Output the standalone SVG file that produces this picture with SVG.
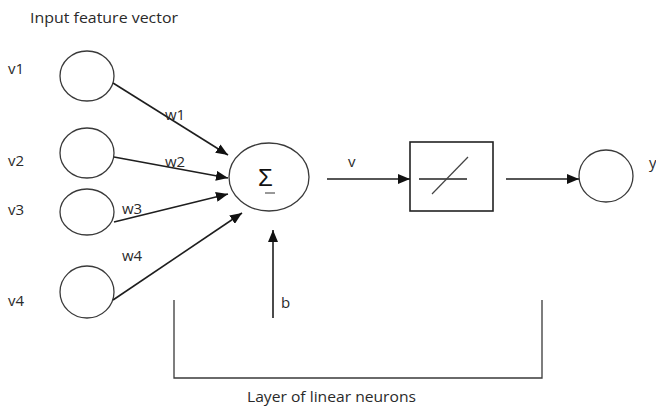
<svg xmlns="http://www.w3.org/2000/svg" width="656" height="407" viewBox="0 0 656 407">
  <style>
    .txt { font-family: "Open Sans", "Liberation Sans", sans-serif; font-size: 15px; fill: #2a2a2a; }
    .node { fill: #ffffff; stroke: #3a3a3a; stroke-width: 1.3; }
    .edge { fill: none; stroke: #1e1e1e; stroke-width: 1.6; }
    .thin { fill: none; stroke: #3a3a3a; stroke-width: 1.3; }
  </style>
  <defs>
    <marker id="arrow" viewBox="0 0 12 10" refX="12" refY="5" markerWidth="12" markerHeight="10" markerUnits="userSpaceOnUse" orient="auto">
      <path d="M0,0 L12,5 L0,10 Z" fill="#111111"/>
    </marker>
  </defs>
  <rect x="0" y="0" width="656" height="407" fill="#ffffff"/>

  <text class="txt" x="30" y="23" textLength="148" lengthAdjust="spacingAndGlyphs">Input feature vector</text>

  <!-- input neurons -->
  <g id="in1">
    <ellipse class="node" cx="87" cy="76" rx="27" ry="25"/>
    <text class="txt" x="8" y="74">v1</text>
  </g>
  <g id="in2">
    <ellipse class="node" cx="87" cy="153" rx="27" ry="25"/>
    <text class="txt" x="8" y="166">v2</text>
  </g>
  <g id="in3">
    <ellipse class="node" cx="87" cy="212" rx="27" ry="23"/>
    <text class="txt" x="8" y="215">v3</text>
  </g>
  <g id="in4">
    <ellipse class="node" cx="87" cy="292" rx="27" ry="26"/>
    <text class="txt" x="8" y="306">v4</text>
  </g>

  <!-- summing junction -->
  <g id="sum">
    <ellipse class="node" cx="269" cy="177" rx="40" ry="34"/>
    <text x="258" y="186" style="font-family: 'Liberation Sans', sans-serif; font-size: 24px; fill: #111;">Σ</text>
    <line x1="265" y1="193" x2="275" y2="193" stroke="#333" stroke-width="1"/>
  </g>

  <!-- linear transfer block -->
  <g id="transfer">
    <rect x="410" y="142" width="83" height="69" fill="#ffffff" stroke="#222" stroke-width="1.6"/>
    <line x1="419" y1="179" x2="467" y2="179" stroke="#222" stroke-width="1.5"/>
    <line x1="432" y1="194" x2="468" y2="157" stroke="#444" stroke-width="1.2"/>
  </g>

  <!-- output neuron -->
  <g id="out">
    <ellipse class="node" cx="606" cy="176" rx="27" ry="26"/>
    <text class="txt" x="649" y="168">y</text>
  </g>

  <!-- bias -->
  <g id="bias">
    <text class="txt" x="281" y="308">b</text>
  </g>

  <!-- layer bracket -->
  <g id="layer">
    <path class="thin" d="M174,300 L174,378 L542,378 L542,300"/>
    <text class="txt" x="247" y="402" textLength="169" lengthAdjust="spacingAndGlyphs">Layer of linear neurons</text>
  </g>

  <!-- connectors -->
  <g id="connectors">
    <line class="edge" x1="113" y1="83" x2="228" y2="155" marker-end="url(#arrow)"/>
    <line class="edge" x1="114" y1="157" x2="228" y2="178" marker-end="url(#arrow)"/>
    <line class="edge" x1="114" y1="222" x2="228" y2="194" marker-end="url(#arrow)"/>
    <line class="edge" x1="113" y1="300" x2="242" y2="213" marker-end="url(#arrow)"/>
    <line class="edge" x1="327" y1="179" x2="410" y2="179" marker-end="url(#arrow)"/>
    <line class="edge" x1="506" y1="179" x2="579" y2="179" marker-end="url(#arrow)"/>
    <line class="edge" x1="273" y1="318" x2="273" y2="230" marker-end="url(#arrow)"/>
    <text class="txt" x="165" y="120">w1</text>
    <text class="txt" x="165" y="167">w2</text>
    <text class="txt" x="122" y="214">w3</text>
    <text class="txt" x="122" y="261">w4</text>
    <text class="txt" x="348" y="167">v</text>
  </g>
</svg>
